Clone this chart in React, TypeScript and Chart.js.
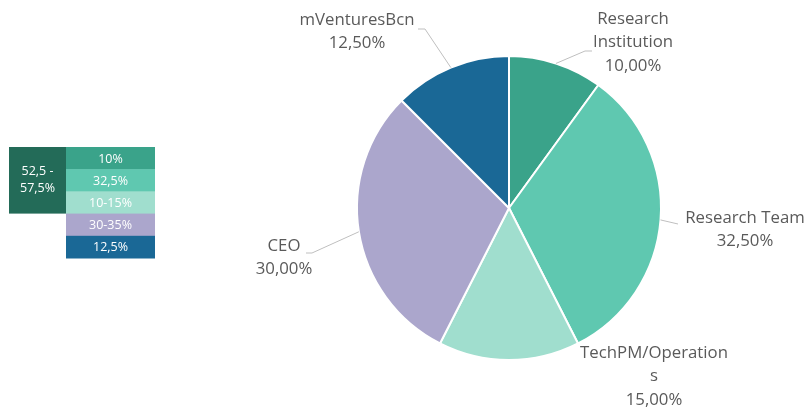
import React, { useEffect, useRef } from 'react';
import { Chart, registerables } from 'chart.js';

Chart.register(...registerables);

// ---- data ----
const categories = ['Research Institution', 'Research Team', 'TechPM/Operations', 'CEO', 'mVenturesBcn'];
const labelLines = [['Research', 'Institution'], ['Research Team'], ['TechPM/Operation', 's'], ['CEO'], ['mVenturesBcn']];
const shares = [10, 32.5, 15, 30, 12.5];
const sliceColors = ['#3aa38a', '#5fc8b0', '#a0dece', '#aba6cc', '#1a6896'];
const tableTotalLines = ['52,5 -', '57,5%'];
const tableRanges = ['10%', '32,5%', '10-15%', '30-35%', '12,5%'];
const tableTotalColor = '#236b58';

// ---- layout (label placement relative to pie centre) ----
const labelLayout = [
  { elbow: [76, -157], end: [83, -157], text: [124, -189] },
  { elbow: null, end: [169, 16], text: [236, 10] },
  { elbow: null, end: null, text: [145, 145] },
  { elbow: [-197, 45], end: [-203, 45], text: [-225, 38] },
  { elbow: [-84, -179], end: [-91, -179], text: [-152, -188] },
];

const FONT = '"Open Sans", "DejaVu Sans", sans-serif';
const fmtPct = (v: number) => v.toFixed(2).replace('.', ',') + '%';

const labelPlugin = {
  id: 'outerLabels',
  afterDatasetsDraw(chart: any) {
    const ctx = chart.ctx;
    const meta = chart.getDatasetMeta(0);
    ctx.save();
    meta.data.forEach((el: any, i: number) => {
      const p = el.getProps(['x', 'y', 'startAngle', 'endAngle', 'outerRadius'], true);
      const mid = (p.startAngle + p.endAngle) / 2;
      const sx = p.x + Math.cos(mid) * p.outerRadius;
      const sy = p.y + Math.sin(mid) * p.outerRadius;
      const L = labelLayout[i];
      if (L.end) {
        ctx.beginPath();
        ctx.strokeStyle = '#bfbfbf';
        ctx.lineWidth = 1;
        ctx.moveTo(sx, sy);
        if (L.elbow) ctx.lineTo(p.x + L.elbow[0], p.y + L.elbow[1]);
        ctx.lineTo(p.x + L.end[0], p.y + L.end[1]);
        ctx.stroke();
      }
      const lines = [...labelLines[i], fmtPct(shares[i])];
      ctx.fillStyle = '#5a5a5a';
      ctx.font = `16.8px ${FONT}`;
      ctx.textAlign = 'center';
      ctx.textBaseline = 'middle';
      lines.forEach((t, k) => {
        ctx.fillText(t, p.x + L.text[0], p.y + L.text[1] + k * 23.5);
      });
    });
    ctx.restore();
  },
};

const tablePlugin = {
  id: 'rangeTable',
  afterDraw(chart: any) {
    const ctx = chart.ctx;
    const x0 = 9, y0 = 147, w0 = 57, w1 = 89, rh = 22.2;
    ctx.save();
    ctx.fillStyle = tableTotalColor;
    ctx.fillRect(x0, y0, w0, rh * 3);
    ctx.fillStyle = '#ffffff';
    ctx.font = `12.5px ${FONT}`;
    ctx.textAlign = 'center';
    ctx.textBaseline = 'middle';
    tableTotalLines.forEach((t, k) => ctx.fillText(t, x0 + w0 / 2, y0 + rh * 1.5 + (k - 0.5) * 17));
    tableRanges.forEach((t, k) => {
      ctx.fillStyle = sliceColors[k];
      ctx.fillRect(x0 + w0, y0 + k * rh, w1, rh + 0.5);
      ctx.fillStyle = '#ffffff';
      ctx.fillText(t, x0 + w0 + w1 / 2, y0 + k * rh + rh / 2 + 1);
    });
    ctx.restore();
  },
};

export default function App() {
  const ref = useRef<HTMLCanvasElement>(null);
  useEffect(() => {
    document.body.style.margin = '0';
    const chart = new Chart(ref.current!, {
      type: 'pie',
      data: {
        labels: categories,
        datasets: [
          {
            data: shares,
            backgroundColor: sliceColors,
            borderColor: '#ffffff',
            borderWidth: 2,
          },
        ],
      },
      options: {
        responsive: false,
        animation: false,
        devicePixelRatio: 1,
        layout: { padding: { left: 356, right: 146, top: 55, bottom: 49 } },
        plugins: { legend: { display: false }, tooltip: { enabled: false } },
      },
      plugins: [labelPlugin, tablePlugin],
    });
    return () => chart.destroy();
  }, []);
  return (
    <div style={{ width: 808, height: 410, background: '#fff' }}>
      <canvas ref={ref} width={808} height={410} />
    </div>
  );
}
